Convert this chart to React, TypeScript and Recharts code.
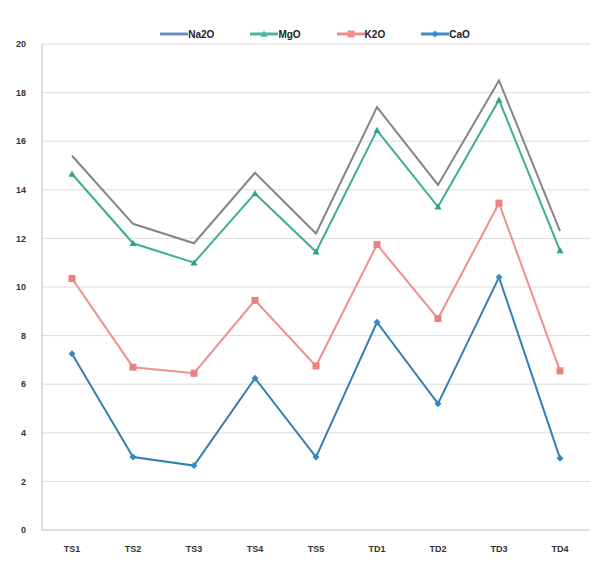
import { LineChart, Line, XAxis, YAxis, CartesianGrid, Legend } from 'recharts';

const samples = ['TS1', 'TS2', 'TS3', 'TS4', 'TS5', 'TD1', 'TD2', 'TD3', 'TD4'];
const na2o = [15.4, 12.6, 11.8, 14.7, 12.2, 17.4, 14.2, 18.5, 12.3];
const mgo = [14.65, 11.8, 11.0, 13.85, 11.45, 16.45, 13.3, 17.7, 11.5];
const k2o = [10.35, 6.7, 6.45, 9.45, 6.75, 11.75, 8.7, 13.45, 6.55];
const cao = [7.25, 3.0, 2.65, 6.25, 3.0, 8.55, 5.2, 10.4, 2.95];
const yTicks = [0, 2, 4, 6, 8, 10, 12, 14, 16, 18, 20];

const data = samples.map((s, i) => ({ name: s, Na2O: na2o[i], MgO: mgo[i], K2O: k2o[i], CaO: cao[i] }));

const legendItems = [
  { name: 'Na2O', color: '#6b8fc4', marker: 'none' },
  { name: 'MgO', color: '#49b59c', marker: 'triangle' },
  { name: 'K2O', color: '#ef8c8c', marker: 'square' },
  { name: 'CaO', color: '#3a8bcb', marker: 'diamond' },
];

const Marker = ({ type, color, cx, cy, size = 3.5 }: any) => {
  if (type === 'square') return <rect x={cx - size} y={cy - size} width={size * 2} height={size * 2} fill={color} />;
  if (type === 'triangle')
    return <polygon points={`${cx},${cy - size} ${cx + size},${cy + size * 0.8} ${cx - size},${cy + size * 0.8}`} fill={color} />;
  if (type === 'diamond')
    return <polygon points={`${cx},${cy - size} ${cx + size},${cy} ${cx},${cy + size} ${cx - size},${cy}`} fill={color} />;
  return null;
};

const dot = (type: string, color: string) => (props: any) => {
  const { cx, cy, index } = props;
  return (
    <g key={`${type}-${index}`}>
      <Marker type={type} color={color} cx={cx} cy={cy} />
    </g>
  );
};

const renderLegend = () => (
  <div style={{ display: 'flex', justifyContent: 'center', alignItems: 'center', height: 20, gap: 36, paddingLeft: 40 }}>
    {legendItems.map((it) => (
      <div key={it.name} style={{ display: 'flex', alignItems: 'center' }}>
        <svg width={28} height={10}>
          <line x1={0} y1={5} x2={28} y2={5} stroke={it.color} strokeWidth={3} />
          <Marker type={it.marker} color={it.color} cx={14} cy={5} size={3.5} />
        </svg>
        <span style={{ fontSize: 10, fontWeight: 'bold', color: '#222' }}>{it.name}</span>
      </div>
    ))}
  </div>
);

const App = () => {
  return (
    <div style={{ position: 'absolute', left: 0, top: 0, width: 600, height: 574, background: '#fff', fontFamily: 'Liberation Sans, Arial, sans-serif' }}>
      <LineChart width={600} height={574} data={data} margin={{ top: 24, right: 10, bottom: 14, left: 0 }}>
        <CartesianGrid vertical={false} stroke="#dcdcdc" />
        <XAxis
          dataKey="name"
          padding={{ left: 30, right: 30 }}
          tickLine={false}
          axisLine={{ stroke: '#cfcfcf' }}
          tick={{ fontSize: 9, fontWeight: 'bold', fill: '#333' }}
          tickMargin={10}
        />
        <YAxis
          domain={[0, 20]}
          ticks={yTicks}
          width={42}
          tickLine={false}
          axisLine={{ stroke: '#bdbdbd' }}
          tick={{ fontSize: 9, fontWeight: 'bold', fill: '#333' }}
          tickMargin={10}
        />
        <Legend verticalAlign="top" content={renderLegend} />
        <Line dataKey="Na2O" stroke="#858585" strokeWidth={2} dot={false} isAnimationActive={false} />
        <Line dataKey="MgO" stroke="#3fae95" strokeWidth={2} dot={dot('triangle', '#2fa383')} isAnimationActive={false} />
        <Line dataKey="K2O" stroke="#ef8f8f" strokeWidth={2} dot={dot('square', '#ee8080')} isAnimationActive={false} />
        <Line dataKey="CaO" stroke="#357fae" strokeWidth={2} dot={dot('diamond', '#3089c8')} isAnimationActive={false} />
      </LineChart>
    </div>
  );
};

export default App;
